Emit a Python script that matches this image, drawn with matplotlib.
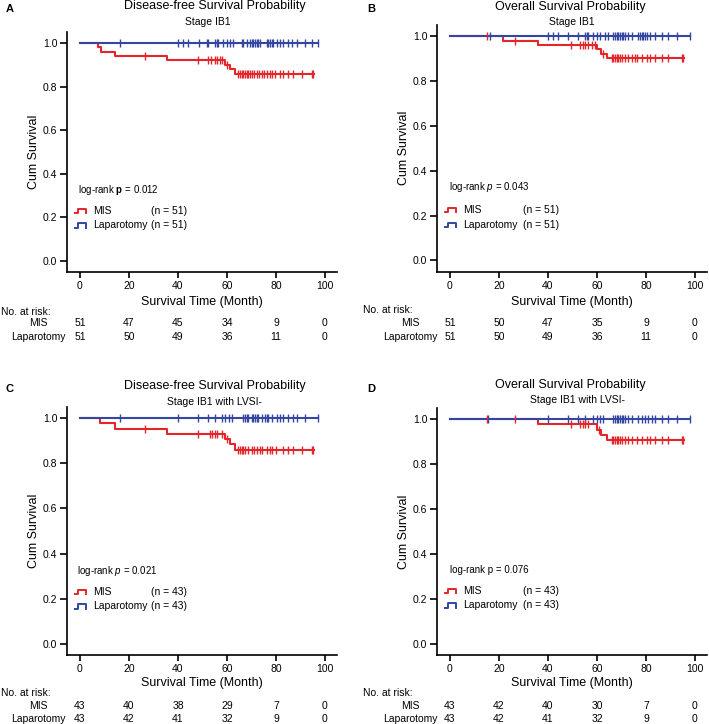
import numpy as np
import matplotlib
matplotlib.use('Agg')
import matplotlib.pyplot as plt
from matplotlib.lines import Line2D
from matplotlib.legend_handler import HandlerBase
from matplotlib.transforms import blended_transform_factory

plt.rcParams['font.family'] = ['Liberation Sans', 'DejaVu Sans']
plt.rcParams['mathtext.fontset'] = 'custom'
plt.rcParams['mathtext.rm'] = 'Liberation Sans'
plt.rcParams['mathtext.it'] = 'Liberation Sans:italic'
plt.rcParams['mathtext.bf'] = 'Liberation Sans:bold'

W, H = 709, 724
RED = '#e4262b'
BLUE = '#34469f'

risk_times = [0, 20, 40, 60, 80, 100]

# ---- Panel A: disease-free survival, stage IB1 ----
a_mis_event_t = [7.5, 8.5, 14.3, 35.4, 59.2, 61.2, 63.3]
a_mis_event_s = [0.980, 0.961, 0.941, 0.920, 0.899, 0.879, 0.858]
a_mis_censor = [26.5, 48.3, 52.4, 53.5, 55.1, 55.8, 57.1, 57.8, 60.2, 64.6, 65.3, 66.0, 66.7,
                67.3, 68.0, 68.7, 69.4, 70.1, 71.0, 72.1, 73.0, 74.2, 75.0, 76.2, 77.5, 78.2,
                79.6, 81.6, 83.0, 85.0, 87.1, 90.5, 94.6, 95.3]
a_mis_end = 95.5
a_lap_censor = [16.3, 40.1, 42.2, 44.2, 48.6, 51.7, 52.4, 55.1, 55.8, 56.5, 58.5, 59.9, 61.2,
                62.6, 66.0, 66.7, 68.0, 69.4, 70.1, 70.7, 71.4, 72.1, 72.8, 73.5, 76.2, 76.9,
                77.6, 78.2, 78.9, 80.3, 81.6, 83.0, 85.0, 86.4, 88.4, 91.8, 94.6, 97.3]
a_lap_end = 97.3
a_mis_risk = [51, 47, 45, 34, 9, 0]
a_lap_risk = [51, 50, 49, 36, 11, 0]

# ---- Panel B: overall survival, stage IB1 ----
b_mis_event_t = [21.8, 36.0, 59.9, 61.5, 63.9]
b_mis_event_s = [0.980, 0.960, 0.940, 0.920, 0.900]
b_mis_censor = [15.0, 26.5, 49.3, 53.1, 54.4, 55.1, 56.5, 57.8, 59.2, 62.6, 66.0, 66.7, 67.3,
                68.0, 68.7, 69.4, 70.1, 71.4, 72.8, 74.2, 75.5, 76.2, 78.2, 80.3, 81.6, 83.7,
                86.4, 89.1, 94.6, 95.2]
b_mis_end = 95.5
b_lap_censor = [16.3, 40.1, 42.2, 44.2, 48.3, 52.4, 55.1, 55.8, 56.5, 58.5, 59.9, 61.2, 63.3,
                64.6, 66.7, 67.3, 68.0, 68.7, 69.4, 70.1, 70.7, 71.4, 72.8, 74.2, 76.9, 77.6,
                78.2, 78.9, 79.6, 80.3, 81.6, 83.7, 86.4, 89.1, 92.5, 98.0]
b_lap_end = 98.0
b_mis_risk = [51, 50, 47, 35, 9, 0]
b_lap_risk = [51, 50, 49, 36, 11, 0]

# ---- Panel C: disease-free survival, stage IB1 with LVSI- ----
c_mis_event_t = [8.2, 14.3, 35.4, 59.2, 61.2, 63.3]
c_mis_event_s = [0.977, 0.953, 0.930, 0.906, 0.883, 0.860]
c_mis_censor = [26.5, 48.3, 53.1, 53.8, 55.1, 55.8, 57.8, 60.2, 64.6, 65.3, 66.0, 66.7, 67.3,
                68.7, 70.1, 71.0, 72.1, 73.5, 74.2, 76.2, 77.5, 78.2, 80.0, 83.0, 85.0, 87.1,
                90.5, 94.6, 95.3]
c_mis_end = 95.5
c_lap_censor = [16.3, 40.1, 48.3, 52.4, 55.1, 57.8, 59.2, 60.8, 61.9, 66.7, 67.3, 68.0, 68.7,
                70.1, 70.7, 71.4, 72.1, 72.8, 74.2, 75.5, 76.2, 76.9, 78.2, 80.3, 81.6, 83.0,
                85.0, 87.1, 88.4, 91.8, 97.3]
c_lap_end = 97.3
c_mis_risk = [43, 40, 38, 29, 7, 0]
c_lap_risk = [43, 42, 41, 32, 9, 0]

# ---- Panel D: overall survival, stage IB1 with LVSI- ----
d_mis_event_t = [36.0, 59.9, 61.5, 63.9]
d_mis_event_s = [0.976, 0.952, 0.928, 0.905]
d_mis_censor = [15.0, 26.5, 49.3, 53.1, 54.4, 55.1, 56.5, 61.0, 66.0, 66.7, 67.3, 68.0, 68.7,
                69.4, 70.1, 71.4, 72.8, 74.2, 76.2, 78.2, 80.3, 81.6, 83.7, 86.4, 89.1, 94.6, 95.2]
d_mis_end = 95.5
d_lap_censor = [15.6, 40.1, 48.3, 52.4, 55.1, 58.5, 59.9, 61.2, 62.6, 66.7, 67.3, 68.0, 68.7,
                69.4, 70.1, 70.7, 71.4, 72.8, 74.2, 76.9, 78.2, 79.6, 80.9, 82.3, 83.7, 86.4,
                89.1, 92.5, 98.0]
d_lap_end = 98.0
d_mis_risk = [43, 42, 40, 30, 7, 0]
d_lap_risk = [43, 42, 41, 32, 9, 0]


def fx(px):
    return px / W


def fy(py):
    return 1 - py / H


class StepHandler(HandlerBase):
    def create_artists(self, legend, orig_handle, xdescent, ydescent, width, height, fontsize, trans):
        xs = np.array([0.0, 0.3, 0.3, 1.0, 1.0]) * width - xdescent
        ys = np.array([0.1, 0.1, 0.7, 0.7, 0.1]) * height - ydescent
        return [Line2D(xs, ys, color=orig_handle.get_color(), lw=1.4, transform=trans)]


def surv_at(times, event_t, event_s):
    s_all = np.concatenate([[1.0], event_s])
    idx = np.searchsorted(np.asarray(event_t, dtype=float), times, side='right')
    return s_all[idx]


def steps(event_t, event_s, end_t):
    t = np.concatenate([[0.0], event_t, [end_t]])
    last = event_s[-1] if len(event_s) else 1.0
    s = np.concatenate([[1.0], event_s, [last]])
    return t, s


fig = plt.figure(figsize=(W / 100, H / 100), dpi=100)

panels = [
    dict(box=(66.5, 32.1, 337.25, 271.9), letter='A', letter_xy=(10, 9),
         title='Disease-free Survival Probability', title_xy=(215, 6),
         sub='Stage IB1', sub_xy=(208, 22),
         mis=(a_mis_event_t, a_mis_event_s, a_mis_censor, a_mis_end),
         lap=(a_lap_censor, a_lap_end), risk=(a_mis_risk, a_lap_risk),
         ptext='log-rank $\\mathbf{p}$ = 0.012', p_xy=(78, 190),
         leg_xy=(75, 218), n_x=150.7, n='(n = 51)',
         risk_x=(1, 38.5), risk_y=(311.7, 323.3, 336.7), xlab_y=301.7),
    dict(box=(436.5, 24.8, 707.25, 271.7), letter='B', letter_xy=(371, 9),
         title='Overall Survival Probability', title_xy=(570, 7),
         sub='Stage IB1', sub_xy=(572, 22),
         mis=(b_mis_event_t, b_mis_event_s, b_mis_censor, b_mis_end),
         lap=(b_lap_censor, b_lap_end), risk=(b_mis_risk, b_lap_risk),
         ptext='log-rank $\\mathit{p}$ = 0.043', p_xy=(449, 187),
         leg_xy=(445, 217.5), n_x=522.7, n='(n = 51)',
         risk_x=(363, 410), risk_y=(310, 323.3, 336.7), xlab_y=301.7),
    dict(box=(66.5, 406.7, 337.25, 655.3), letter='C', letter_xy=(10, 389),
         title='Disease-free Survival Probability', title_xy=(215, 386),
         sub='Stage IB1 with LVSI-', sub_xy=(215, 402),
         mis=(c_mis_event_t, c_mis_event_s, c_mis_censor, c_mis_end),
         lap=(c_lap_censor, c_lap_end), risk=(c_mis_risk, c_lap_risk),
         ptext='log-rank $\\mathit{p}$ = 0.021', p_xy=(77, 571),
         leg_xy=(75, 599), n_x=150.7, n='(n = 43)',
         risk_x=(1, 38.5), risk_y=(693.3, 706, 719), xlab_y=683.3),
    dict(box=(436.5, 407.75, 707.25, 655.25), letter='D', letter_xy=(371, 389),
         title='Overall Survival Probability', title_xy=(570, 385),
         sub='Stage IB1 with LVSI-', sub_xy=(577, 400),
         mis=(d_mis_event_t, d_mis_event_s, d_mis_censor, d_mis_end),
         lap=(d_lap_censor, d_lap_end), risk=(d_mis_risk, d_lap_risk),
         ptext='log-rank p = 0.076', p_xy=(450, 570),
         leg_xy=(445, 598), n_x=522.7, n='(n = 43)',
         risk_x=(363, 410), risk_y=(693.3, 706, 719), xlab_y=683.3),
]

legends = []
for p in panels:
    l, t, r, b = p['box']
    ax = fig.add_axes([fx(l), fy(b), (r - l) / W, (b - t) / H])
    ev_t, ev_s, cens, end_t = p['mis']
    lap_cens, lap_end = p['lap']

    st, ss = steps(ev_t, ev_s, end_t)
    red_line, = ax.step(st, ss, where='post', color=RED, lw=1.5, zorder=2)
    bt, bs = steps([], [], lap_end)
    blue_line, = ax.step(bt, bs, where='post', color=BLUE, lw=1.5, zorder=3)
    ax.plot(lap_cens, surv_at(lap_cens, [], []), ls='none', marker='|', ms=5.5, mew=1,
            color=BLUE, zorder=4)
    ax.plot(cens, surv_at(cens, ev_t, ev_s), ls='none', marker='|', ms=5.5, mew=1,
            color=RED, zorder=5)

    ax.set_xlim(-5.5, 105)
    ax.set_ylim(-0.05, 1.05)
    ax.set_xticks(risk_times)
    ax.set_yticks(np.arange(0, 1.01, 0.2))
    ax.set_yticklabels(['%.1f' % v for v in np.arange(0, 1.01, 0.2)])
    for s in ['top', 'right']:
        ax.spines[s].set_visible(False)
    for s in ['left', 'bottom']:
        ax.spines[s].set_linewidth(1.2)
    ax.tick_params(axis='y', length=5, width=1.2, pad=1.5, labelsize=7.5)
    ax.tick_params(axis='x', length=4, width=1.2, pad=2.5, labelsize=7.5)
    ax.set_ylabel('Cum Survival', fontsize=9, va='center')
    ax.yaxis.set_label_coords(-0.12, 0.5)
    ax.set_xlabel('Survival Time (Month)', fontsize=9, va='center')
    ax.xaxis.set_label_coords(0.5, (b - p['xlab_y']) / (b - t))

    fig.text(fx(p['letter_xy'][0]), fy(p['letter_xy'][1]), p['letter'], fontsize=8,
             fontweight='bold', ha='center', va='center')
    fig.text(fx(p['title_xy'][0]), fy(p['title_xy'][1]), p['title'], fontsize=9,
             ha='center', va='center')
    fig.text(fx(p['sub_xy'][0]), fy(p['sub_xy'][1]), p['sub'], fontsize=7.5,
             ha='center', va='center')
    fig.text(fx(p['p_xy'][0]), fy(p['p_xy'][1]), p['ptext'], fontsize=7,
             ha='left', va='center')

    leg = ax.legend([red_line, blue_line], ['MIS', 'Laparotomy'],
                    handler_map={Line2D: StepHandler()}, loc='center left',
                    bbox_to_anchor=(fx(p['leg_xy'][0]), fy(p['leg_xy'][1])),
                    bbox_transform=fig.transFigure, frameon=False, fontsize=7.5,
                    handlelength=1.1, handletextpad=0.6, labelspacing=0.45,
                    borderpad=0, borderaxespad=0)
    legends.append((leg, p))

    # number at risk table
    trans = blended_transform_factory(ax.transData, fig.transFigure)
    rx0, rxc = p['risk_x']
    ry0, ry1, ry2 = p['risk_y']
    fig.text(fx(rx0), fy(ry0), 'No. at risk:', fontsize=7.5, ha='left', va='center')
    fig.text(fx(rxc), fy(ry1), 'MIS', fontsize=7.5, ha='center', va='center')
    fig.text(fx(rxc), fy(ry2), 'Laparotomy', fontsize=7.5, ha='center', va='center')
    mis_risk, lap_risk = p['risk']
    for tt, n1, n2 in zip(risk_times, mis_risk, lap_risk):
        ax.text(tt, fy(ry1), str(n1), transform=trans, fontsize=7.5, ha='center', va='center')
        ax.text(tt, fy(ry2), str(n2), transform=trans, fontsize=7.5, ha='center', va='center')

# sample sizes next to legend labels, lined up on the legend text baselines
fig.canvas.draw()
inv = fig.transFigure.inverted()
for leg, p in legends:
    for txt in leg.get_texts():
        disp = txt.get_transform().transform(txt.get_position())
        yy = inv.transform(disp)[1]
        fig.text(fx(p['n_x']), yy, p['n'], fontsize=7.5, ha='left', va='baseline')

fig.savefig('out.png', dpi=100)
